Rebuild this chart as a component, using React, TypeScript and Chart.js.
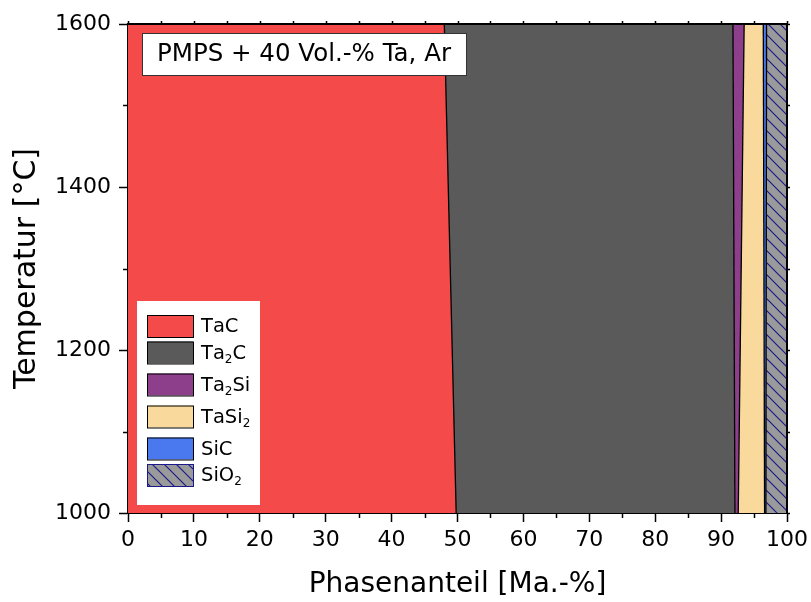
import React, { useEffect, useRef } from 'react';
import { Chart, registerables } from 'chart.js';

Chart.register(...registerables);

// ---- data ----
const temperatures = [1000, 1600];
const phaseNames = ['TaC', 'Ta₂C', 'Ta₂Si', 'TaSi₂', 'SiC', 'SiO₂'];
const tacValues = [49.8, 48.0];
const ta2cValues = [42.3, 43.8];
const ta2siValues = [0.5, 1.7];
const tasi2Values = [4.0, 2.9];
const sicValues = [0.2, 0.5];
const sio2Values = [3.2, 3.1];
const phaseColors = ['#F44A4A', '#5A5A5A', '#8E3F8C', '#F9D99C', '#4A78EE', 'pattern'];

const xMajorTicks = [0, 10, 20, 30, 40, 50, 60, 70, 80, 90, 100];
const xMinorTicks = [5, 15, 25, 35, 45, 55, 65, 75, 85, 95];
const yMajorTicks = [1000, 1200, 1400, 1600];
const yMinorTicks = [1100, 1300, 1500];
const xTitle = 'Phasenanteil [Ma.-%]';
const yTitle = 'Temperatur [°C]';
const annotationText = 'PMPS + 40 Vol.-% Ta, Ar';

const FONT = '"DejaVu Sans", Verdana, sans-serif';

function makeHatch(): CanvasPattern | string {
  const c = document.createElement('canvas');
  const s = 12;
  c.width = s;
  c.height = s;
  const g = c.getContext('2d');
  if (!g) return '#9A9A9A';
  g.fillStyle = '#9A9A9A';
  g.fillRect(0, 0, s, s);
  g.strokeStyle = '#1A1A8C';
  g.lineWidth = 1.2;
  g.beginPath();
  g.moveTo(-1, -1);
  g.lineTo(s + 1, s + 1);
  g.moveTo(-1, s - 1);
  g.lineTo(1, s + 1);
  g.moveTo(s - 1, -1);
  g.lineTo(s + 1, 1);
  g.stroke();
  const p = g.createPattern(c, 'repeat');
  return p || '#9A9A9A';
}

// draw text where '₂' is rendered as a real subscript
function drawSubText(ctx: CanvasRenderingContext2D, text: string, x: number, y: number, size: number) {
  let cx = x;
  for (const ch of text) {
    if (ch === '₂') {
      ctx.font = `${Math.round(size * 0.62)}px ${FONT}`;
      ctx.fillText('2', cx, y + size * 0.32);
      cx += ctx.measureText('2').width;
    } else {
      ctx.font = `${size}px ${FONT}`;
      ctx.fillText(ch, cx, y);
      cx += ctx.measureText(ch).width;
    }
  }
}

const decorPlugin = {
  id: 'decor',
  afterDraw(chart: any) {
    const ctx: CanvasRenderingContext2D = chart.ctx;
    const { left, right, top, bottom } = chart.chartArea;
    const xs = chart.scales.x;
    const ys = chart.scales.y;
    ctx.save();
    // frame top/right
    ctx.strokeStyle = '#000';
    ctx.lineWidth = 2;
    ctx.beginPath();
    ctx.moveTo(left - 1, top);
    ctx.lineTo(right, top);
    ctx.lineTo(right, bottom + 1);
    ctx.stroke();
    // minor ticks
    ctx.lineWidth = 1.5;
    ctx.beginPath();
    for (const v of xMinorTicks) {
      const px = Math.round(xs.getPixelForValue(v)) + 0.5;
      ctx.moveTo(px, bottom);
      ctx.lineTo(px, bottom + 5);
    }
    for (const v of [...xMinorTicks, ...xMajorTicks]) {
      const px = Math.round(xs.getPixelForValue(v)) + 0.5;
      ctx.moveTo(px, top);
      ctx.lineTo(px, top - 3);
    }
    for (const v of yMinorTicks) {
      const py = Math.round(ys.getPixelForValue(v)) + 0.5;
      ctx.moveTo(left - 5, py);
      ctx.lineTo(left, py);
    }
    for (const v of [...yMinorTicks, ...yMajorTicks]) {
      const py = Math.round(ys.getPixelForValue(v)) + 0.5;
      ctx.moveTo(right, py);
      ctx.lineTo(right + 3, py);
    }
    ctx.stroke();

    // annotation box
    ctx.font = `24.5px ${FONT}`;
    const tw = ctx.measureText(annotationText).width;
    const bx = left + 14;
    const by = top + 9;
    const bw = tw + 30;
    const bh = 42;
    ctx.fillStyle = '#FFFFFF';
    ctx.fillRect(bx, by, bw, bh);
    ctx.strokeStyle = '#333';
    ctx.lineWidth = 1;
    ctx.strokeRect(bx + 0.5, by + 0.5, bw, bh);
    ctx.fillStyle = '#000';
    ctx.textBaseline = 'middle';
    ctx.textAlign = 'left';
    ctx.fillText(annotationText, bx + 15, by + bh / 2 + 1);

    // legend
    const datasets = chart.data.datasets.slice(1);
    const lx = left + 9;
    const lw = 123;
    const lbottom = bottom - 8;
    const ltop = lbottom - 204;
    ctx.fillStyle = '#FFFFFF';
    ctx.fillRect(lx, ltop, lw, lbottom - ltop);
    let cy = ltop + 25;
    ctx.textBaseline = 'middle';
    for (const ds of datasets) {
      const sx = lx + 10;
      const sw = 46;
      const sh = 22;
      ctx.fillStyle = ds.backgroundColor;
      ctx.fillRect(sx, cy - sh / 2, sw, sh);
      ctx.strokeStyle = ds.label === 'SiO₂' ? '#1A1A8C' : '#000';
      ctx.lineWidth = 1;
      ctx.strokeRect(sx + 0.5, cy - sh / 2 + 0.5, sw, sh);
      ctx.fillStyle = '#000';
      drawSubText(ctx, ds.label, sx + sw + 8, cy + 1, 19.5);
      const hasSub = ds.label.includes('₂');
      cy += 26.5 + (hasSub ? 5.5 : 0);
    }
    ctx.restore();
  },
};

export default function App() {
  const ref = useRef<HTMLCanvasElement | null>(null);
  useEffect(() => {
    document.body.style.margin = '0';
    const canvas = ref.current;
    if (!canvas) return;
    const hatch = makeHatch();
    const series = [tacValues, ta2cValues, ta2siValues, tasi2Values, sicValues, sio2Values];
    const cum = temperatures.map(() => 0);
    const datasets: any[] = [
      {
        label: 'base',
        data: temperatures.map((t) => ({ x: 0, y: t })),
        borderWidth: 0,
        pointRadius: 0,
        fill: false,
      },
    ];
    series.forEach((vals, i) => {
      vals.forEach((v, j) => (cum[j] += v));
      datasets.push({
        label: phaseNames[i],
        data: temperatures.map((t, j) => ({ x: Math.min(cum[j], 100), y: t })),
        backgroundColor: phaseColors[i] === 'pattern' ? hatch : phaseColors[i],
        borderColor: '#000',
        borderWidth: 1.3,
        pointRadius: 0,
        fill: '-1',
      });
    });

    const chart = new Chart(canvas, {
      type: 'line',
      data: { datasets },
      plugins: [decorPlugin],
      options: {
        animation: false,
        responsive: false,
        indexAxis: 'y',
        layout: { padding: { top: 24, right: 24, left: 0, bottom: 0 } },
        plugins: {
          legend: { display: false },
          tooltip: { enabled: false },
          filler: { propagate: true },
        },
        scales: {
          x: {
            type: 'linear',
            min: 0,
            max: 100,
            position: 'bottom',
            afterFit: (s: any) => {
              s.height = 89;
              s.paddingRight = 0;
              s.paddingLeft = 0;
            },
            afterBuildTicks: (s: any) => {
              s.ticks = xMajorTicks.map((v) => ({ value: v }));
            },
            ticks: {
              color: '#000',
              font: { family: FONT, size: 22 },
              padding: 5,
              maxRotation: 0,
              autoSkip: false,
              callback: (v: any) => String(v),
            },
            grid: { drawOnChartArea: false, drawTicks: true, tickLength: 9, tickColor: '#000', tickWidth: 1.5 },
            border: { display: true, color: '#000', width: 2 },
            title: {
              display: true,
              text: xTitle,
              color: '#000',
              font: { family: FONT, size: 28 },
              padding: { top: 6, bottom: 0 },
            },
          },
          y: {
            type: 'linear',
            min: 1000,
            max: 1600,
            position: 'left',
            afterFit: (s: any) => {
              s.width = 128;
            },
            afterBuildTicks: (s: any) => {
              s.ticks = yMajorTicks.map((v) => ({ value: v }));
            },
            ticks: {
              color: '#000',
              font: { family: FONT, size: 22 },
              padding: 8,
              autoSkip: false,
              callback: (v: any) => String(v),
            },
            grid: { drawOnChartArea: false, drawTicks: true, tickLength: 9, tickColor: '#000', tickWidth: 1.5 },
            border: { display: true, color: '#000', width: 2 },
            title: {
              display: true,
              text: yTitle,
              color: '#000',
              font: { family: FONT, size: 30 },
              padding: { top: 9, bottom: 0 },
            },
          },
        },
      } as any,
    });
    return () => chart.destroy();
  }, []);

  return (
    <div style={{ width: 811, height: 602 }}>
      <canvas ref={ref} width={811} height={602} style={{ display: 'block' }} />
    </div>
  );
}
